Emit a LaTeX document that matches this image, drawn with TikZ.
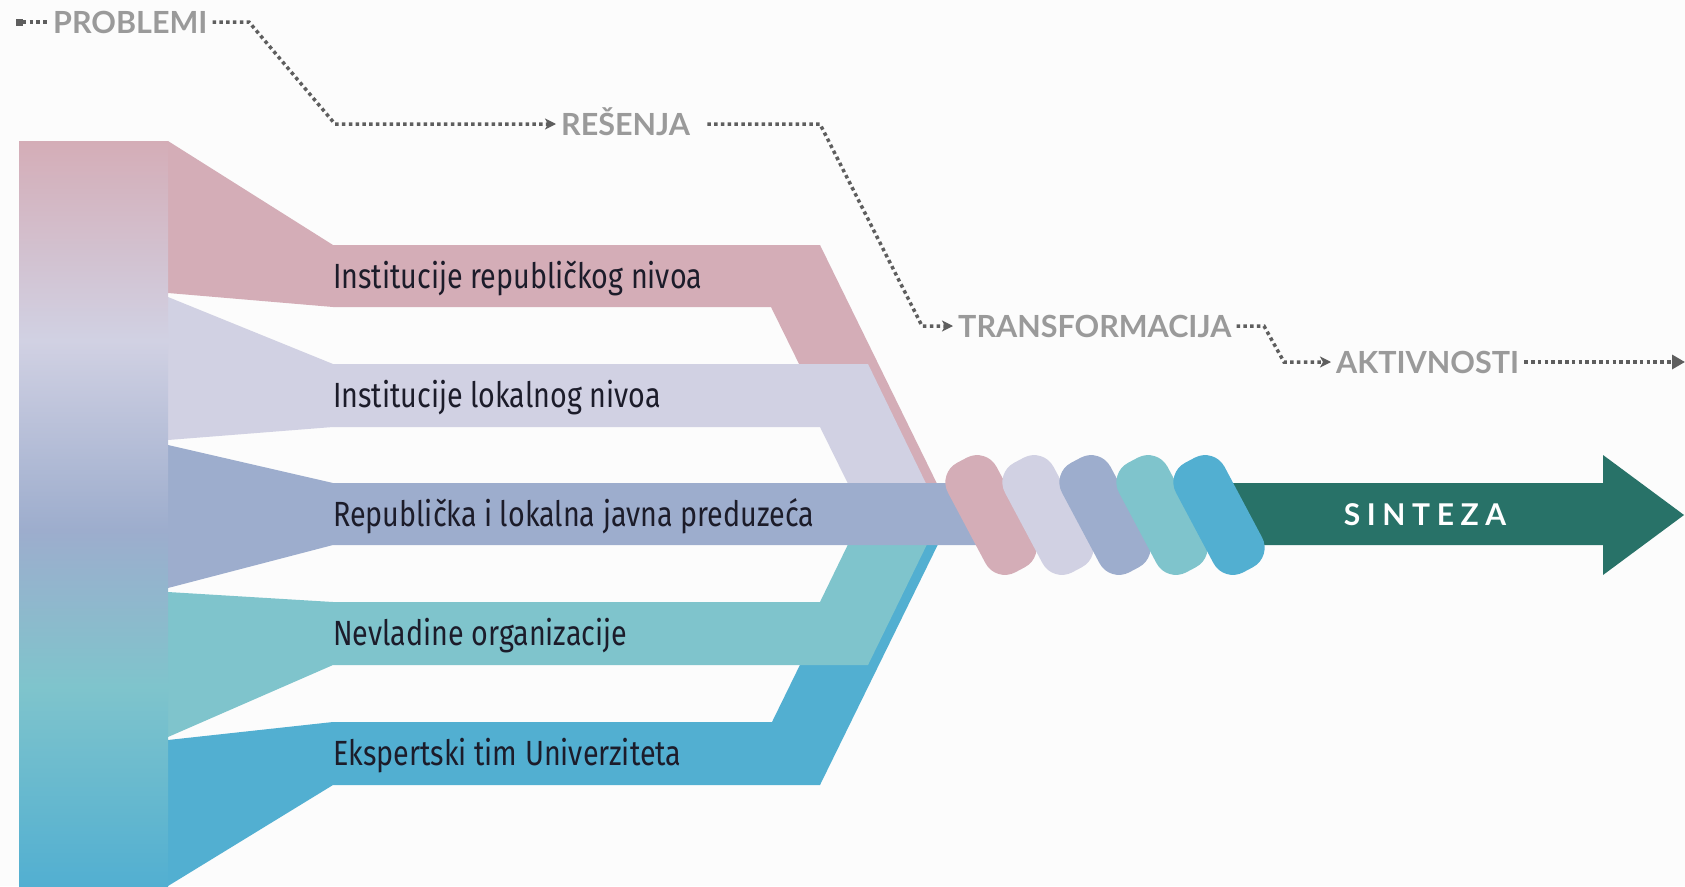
\documentclass[tikz,border=0pt]{standalone}
\usepackage{fontspec}
\usetikzlibrary{arrows.meta}
\newfontfamily\latofont{Lato}
\newfontfamily\bandfont[FakeStretch=0.82]{Fira Sans}
\newfontfamily\sintfont[LetterSpace=22]{Lato}
\definecolor{cBg}{HTML}{FCFCFC}
\definecolor{cPink}{HTML}{D4ADB7}
\definecolor{cLav}{HTML}{D1D1E3}
\definecolor{cPeri}{HTML}{9DADCD}
\definecolor{cTeal}{HTML}{7FC4CC}
\definecolor{cBlue}{HTML}{52AFD1}
\definecolor{cDark}{HTML}{287268}
\definecolor{cGray}{HTML}{9A9A9A}
\definecolor{cDot}{HTML}{5E5E5E}
\definecolor{cText}{HTML}{1C1C2A}
\pgfdeclareverticalshading{barshade}{100bp}{color(0bp)=(cBlue); color(25bp)=(cBlue); color(38.4bp)=(cTeal); color(48.9bp)=(cPeri); color(61.6bp)=(cLav); color(75bp)=(cPink); color(100bp)=(cPink)}
\tikzset{
  bandlabel/.style={font=\bandfont\fontsize{35}{35}\selectfont, text=cText, inner sep=0pt, anchor=base west},
  toplabel/.style={font=\latofont\bfseries\fontsize{30.5}{30.5}\selectfont, text=cGray, inner xsep=5pt, inner ysep=0pt, text height=22pt, text depth=0pt, anchor=west},
  dotline/.style={draw=cDot, line width=3.5pt, dash pattern=on 3.5pt off 3.3pt},
  tipsmall/.style={-{Stealth[length=11pt,width=11pt,inset=3pt]}},
  tipbig/.style={-{Stealth[length=13pt,width=14pt,inset=0pt]}},
  capsule/.style={rectangle, rounded corners=22pt, minimum width=55pt, minimum height=124pt, inner sep=0pt, rotate=28},
  sintlabel/.style={font=\sintfont\bfseries\fontsize{30}{30}\selectfont, text=white, inner sep=0pt}
}
\begin{document}
\begin{tikzpicture}[x=1pt,y=-1pt]
\useasboundingbox (0,0) rectangle (1685,886);
\fill[cBg] (0,0) rectangle (1685,886);
% bands
\fill[cPink] (168,141) -- (333,245) -- (820,245) -- (945,500) -- (866,500) -- (771,307) -- (333,307) -- (168,293) -- cycle;
\fill[cLav] (168,297) -- (333,364) -- (868,364) -- (934,500) -- (856,500) -- (820,427) -- (333,427) -- (168,440) -- cycle;
\fill[cBlue] (168,740) -- (333,722) -- (772,722) -- (866,530) -- (945,530) -- (820,785) -- (333,785) -- (168,886) -- cycle;
\fill[cTeal] (168,592) -- (333,602) -- (820,602) -- (855,530) -- (934,530) -- (868,665) -- (333,665) -- (168,737) -- cycle;
\fill[cPeri] (168,445) -- (333,483) -- (985,483) -- (985,545) -- (333,545) -- (168,588) -- cycle;
% gradient bar
\shade[shading=barshade] (19,141) rectangle (168,886);
% labels
\node[bandlabel] (l1) at (333,288) {Institucije republičkog nivoa};
\node[bandlabel] (l2) at (333,407.5) {Institucije lokalnog nivoa};
\node[bandlabel] (l3) at (333,526) {Republička i lokalna javna preduzeća};
\node[bandlabel] (l4) at (333,645.5) {Nevladine organizacije};
\node[bandlabel] (l5) at (333,765) {Ekspertski tim Univerziteta};
% synthesis arrow
\fill[cDark] (1200,483) -- (1603,483) -- (1603,455) -- (1684,515) -- (1603,575) -- (1603,545) -- (1200,545) -- cycle;
\node[sintlabel] (sinteza) at (1425,515) {SINTEZA};
% twisted capsules
\node[capsule, fill=cPink] (k1) at (991,515) {};
\node[capsule, fill=cLav] (k2) at (1048,515) {};
\node[capsule, fill=cPeri] (k3) at (1105,515) {};
\node[capsule, fill=cTeal] (k4) at (1162,515) {};
\node[capsule, fill=cBlue] (k5) at (1219,515) {};
% top flow
\node[fill=cDot, minimum size=7pt, inner sep=0pt] (sq) at (19,22) {};
\node[toplabel] (problemi) at (48,22) {PROBLEMI};
\node[toplabel] (resenja) at (556,124) {REŠENJA};
\node[toplabel] (transf) at (953,326) {TRANSFORMACIJA};
\node[toplabel] (aktiv) at (1331,362) {AKTIVNOSTI};
\coordinate (p1) at (249,22);
\coordinate (p2) at (335,124);
\coordinate (p3) at (820,124);
\coordinate (p4) at (922,326);
\coordinate (p5) at (1264,326);
\coordinate (p6) at (1284,362);
\coordinate (pend) at (1685,362);
\draw[dotline] (sq) -- (problemi);
\draw[dotline, tipsmall] (problemi.east) -- (p1) -- (p2) -- (resenja.west);
\draw[dotline, tipsmall] ([xshift=12pt]resenja.east) -- (p3) -- (p4) -- (transf.west);
\draw[dotline, tipsmall] (transf.east) -- (p5) -- (p6) -- (aktiv.west);
\draw[dotline, tipbig] (aktiv.east) -- (pend);
\end{tikzpicture}
\end{document}
